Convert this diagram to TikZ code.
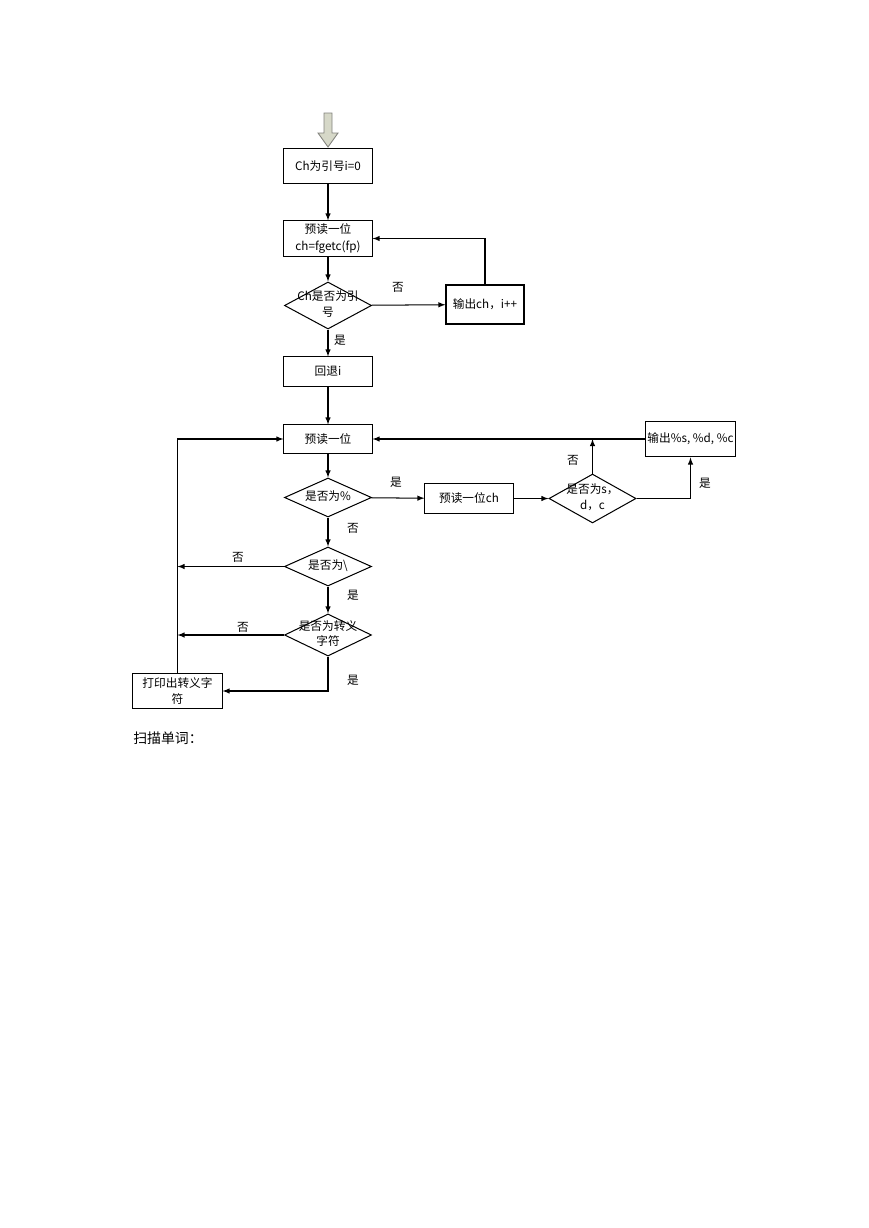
\documentclass[tikz,border=0pt]{standalone}
\usepackage{fontspec}
\setmainfont{Noto Sans CJK SC}
\usepackage{tikz}
\usetikzlibrary{shapes,arrows,positioning}
\definecolor{startfill}{RGB}{214,216,200}
\definecolor{startedge}{RGB}{130,130,125}
\tikzstyle{block} = [rectangle, draw, line width=0.7pt, inner sep=1pt, align=center, minimum width=60.3pt, font=\fontsize{8}{11}\selectfont]
\tikzstyle{decision} = [diamond, draw, line width=0.7pt, inner sep=0pt, minimum width=59.6pt, font=\fontsize{8}{10.5}\selectfont]
\tikzstyle{line} = [draw, line width=0.7pt, -latex]
\tikzstyle{lbl} = [inner sep=0pt, font=\fontsize{8}{10}\selectfont]
\newcommand{\dtxt}[1]{\smash{\raisebox{-0.25em}{\makebox[0pt]{\begin{tabular}{@{}c@{}}#1\end{tabular}}}}}

\begin{document}
\begin{tikzpicture}[x=0.6847pt, y=-0.6847pt]
			\useasboundingbox (0,0) rectangle (869,1228);
			% start arrow
			\filldraw [fill=startfill, draw=startedge, line width=0.6pt]
				(324,113) -- (332,113) -- (332,133) -- (338,133) -- (328,147)
				-- (318,133) -- (324,133) -- cycle;

			\node [block, minimum height=24.6pt] (init) at (328,166) {Ch为引号i=0};
			\node [block, minimum height=24pt] (peek) at (328,238.5) {预读一位\\ch=fgetc(fp)};
			\node [decision, minimum height=32.2pt] (isq) at (328,305.5) {\dtxt{Ch是否为引\\号}};
			\node [block, minimum width=53.4pt, minimum height=26.7pt] (outch) at (485,304.5) {输出ch，i++};
			\node [block, minimum height=19.9pt] (back) at (328,371.5) {回退i};
			\node [block, minimum height=19.2pt] (read) at (328,439) {预读一位};
			\node [decision, minimum height=26.7pt] (ispct) at (328,497.5) {\dtxt{是否为\%}};
			\node [decision, minimum height=26.7pt] (isbs) at (328,566.5) {\dtxt{是否为\textbackslash}};
			\node [decision, minimum height=28.8pt] (isesc) at (328,635) {\dtxt{是否为转义\\字符}};
			\node [block, minimum width=61pt, minimum height=24.6pt] (print) at (177.5,691) {打印出转义字\\符};
			\node [block, minimum height=21.2pt] (readch) at (469,498.5) {\raisebox{-4pt}{预读一位ch}};
			\node [decision, minimum height=33.5pt] (isfmt) at (592.5,498.5) {\dtxt{是否为s，\\d，c}};
			\node [block, minimum width=61pt, minimum height=24.6pt] (outfmt) at (690.5,439) {输出\%s, \%d, \%c};
			\node [anchor=west, inner sep=0pt, font=\fontsize{9.5}{11}\selectfont] (scan) at (133,738) {扫描单词：};

			\coordinate (j1) at (isfmt |- outfmt);
			\coordinate (m1) at (print |- isbs);
			\coordinate (m2) at (print |- isesc);

			\node [lbl] (n1) at (398,287) {否};
			\node [lbl] (y1) at (340,340) {是};
			\node [lbl] (y2) at (396,482) {是};
			\node [lbl] (n2) at (353,528) {否};
			\node [lbl] (n3) at (238,557) {否};
			\node [lbl] (y3) at (353,595) {是};
			\node [lbl] (n4) at (243,627) {否};
			\node [lbl] (y4) at (353,680) {是};
			\node [lbl] (n5) at (573,460) {否};
			\node [lbl] (y5) at (705,483) {是};

			\path [line] (init) -- (peek);
			\path [line] (peek) -- (isq);
			\path [line] (isq) -- (outch);
			\path [line] (outch.north) |- (peek.east);
			\path [line] (isq) -- (back);
			\path [line] (back) -- (read);
			\path [line] (read) -- (ispct);
			\path [line] (ispct) -- (readch);
			\path [line] (readch) -- (isfmt);
			\path [line] (isfmt.north) -- (j1);
			\path [line] (isfmt.east) -| (outfmt.south);
			\path [line] (outfmt.west) -- (read.east);
			\path [line] (ispct) -- (isbs);
			\path [line] (isbs.west) -- (m1);
			\path [line] (isbs) -- (isesc);
			\path [line] (isesc.west) -- (m2);
			\path [line] (isesc.south) |- (print.east);
			\path [line] (print.north) |- (read.west);
		\end{tikzpicture}
\end{document}
